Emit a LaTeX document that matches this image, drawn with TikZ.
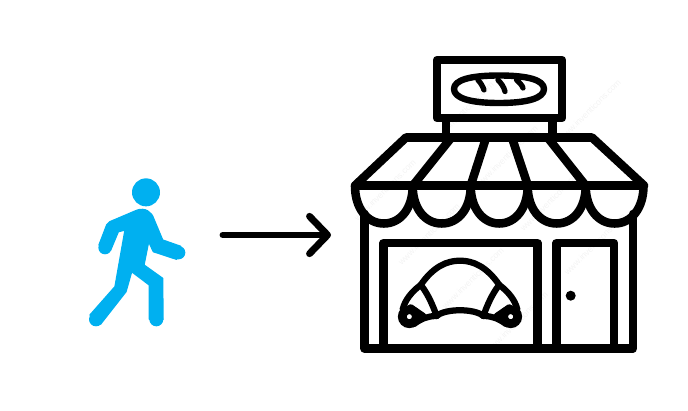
\documentclass[tikz,border=0pt]{standalone}
\usepackage{fontspec}
\setmainfont{Liberation Sans}
\usetikzlibrary{arrows.meta}
\definecolor{walker}{HTML}{00B0F0}
\definecolor{mark}{HTML}{F3F3F3}
\tikzset{
  px/.style={x=0.75pt,y=-0.75pt},
  ink/.style={draw=black,line width=6.4pt,line join=round,line cap=round},
  thin ink/.style={draw=black,line width=4.7pt,line join=round,line cap=round},
  ring ink/.style={draw=black,line width=6.6pt},
  bread ink/.style={draw=black,line width=4.8pt,line join=round,line cap=round},
  tick ink/.style={draw=black,line width=4pt,line cap=round},
  man/.style={fill=walker,draw=walker,line width=1pt,line join=round},
  stamp/.style={text=mark,font=\fontsize{6.5pt}{7pt}\selectfont,rotate=45,inner sep=0pt},
  walkarrow/.style={draw=black,line width=5.2pt,line cap=round,line join=round,
    -{Straight Barb[length=13.5pt,width=28pt,line width=5.2pt,round,line join=round]}}
}
\begin{document}
\begin{tikzpicture}[px]
\useasboundingbox (0,0) rectangle (688,410);
% faint watermark
\foreach \n/\x/\y in {a/385/190,b/463/112,c/429/234,d/507/156,e/473/278,f/551/200,g/517/322,h/595/244,k/590/110}{
  \node[stamp] (wm\n) at (\x,\y) {www.inventicons.com};
}
% walking man (coordinates in 3x zoom units)
\begin{scope}[shift={(70,170)},x=0.25pt,y=-0.25pt]
  \fill[walker] (228,67) circle (42);
  \path[man] (120,155) -- (200,121) .. controls (225,112) and (245,125) .. (252,148)
    -- (278,210) -- (332,229) -- (320,268) -- (250,245) -- (236,215) -- (222,285)
    -- (278,325) -- (279,448) -- (238,448) -- (238,345) -- (185,305) -- (168,365)
    -- (92,462) -- (60,435) -- (135,350) -- (165,180) -- (145,185) -- (122,240)
    -- (87,225) -- (110,165) -- cycle;
  \fill[walker] (105,233) circle (20) (326,248) circle (20)
    (259,448) circle (21) (78,448) circle (21);
\end{scope}
% arrow
\coordinate (from) at (223,235);
\coordinate (to) at (331,235);
\draw[walkarrow] (from) -- (to);
% sign
\begin{scope}
\clip (340,56) rectangle (660,130);
\draw[ink] (437,60) rectangle (562,118);
\end{scope}
\draw[ink,line cap=butt] (446,118) -- (446,138) (552.5,118) -- (552.5,138);
% bread
\draw[bread ink] (454,89) .. controls (454,80) and (470,75.5) .. (499,75.5)
  .. controls (528,75.5) and (544,80) .. (544,89)
  .. controls (544,98) and (528,103) .. (499,103)
  .. controls (470,103) and (454,98) .. (454,89) -- cycle;
\draw[tick ink] (478,80) .. controls (481,83) and (483,87) .. (484,90)
  (498,80) .. controls (501,83) and (504,87) .. (505,91.5)
  (516.5,80) .. controls (519,82) and (522,85) .. (523,88);
% awning
\draw[ink] (355,185.5) -- (406,137.5) -- (592,137.5) -- (644,185.5) -- cycle;
\draw[ink,line cap=butt] (412.5,186) -- (451,138) (470.5,186) -- (486,138)
  (528,186) -- (512,138) (586,186) -- (548,138);
% scallops
\foreach \a/\b in {355/412.7,412.7/470.7,470.7/527.7,527.7/585.7,585.7/643.5}{
  \draw[ink] (\a,186) .. controls (\a,208) and ({\a+12},223.5) .. ({(\a+\b)/2},223.5)
    .. controls ({\b-12},223.5) and (\b,208) .. (\b,186);
}
% walls
\draw[ink] (364.5,214) -- (364.5,348.5) -- (633,348.5) -- (633,214);
% window and door
\draw[ink] (383.5,348.5) -- (383.5,243) -- (537.5,243) -- (537.5,348.5);
\draw[ink] (556.5,348.5) -- (556.5,243) -- (614,243) -- (614,348.5);
\fill[black] (570.7,295.7) circle (5);
% croissant (coordinates in 3x zoom units)
\begin{scope}[shift={(390,250)},x=0.25pt,y=-0.25pt]
  \draw[thin ink] (92,105) .. controls (130,50) and (170,32) .. (210,32)
    .. controls (250,32) and (290,50) .. (328,105);
  \draw[thin ink] (92,105) .. controls (65,125) and (45,150) .. (38,178);
  \draw[thin ink] (328,105) .. controls (355,125) and (375,150) .. (382,178);
  \draw[thin ink] (95,108) .. controls (115,135) and (128,165) .. (140,198);
  \draw[thin ink] (325,108) .. controls (305,135) and (292,165) .. (280,198);
  \draw[thin ink] (140,198) .. controls (165,175) and (255,175) .. (280,198);
  \draw[thin ink] (140,198) .. controls (115,198) and (95,205) .. (72,222);
  \draw[thin ink] (280,198) .. controls (305,198) and (325,205) .. (348,222);
  \draw[thin ink] (62,172) -- (100,198);
  \draw[thin ink] (358,172) -- (320,198);
  \draw[ring ink] (58,200) circle (21);
  \draw[ring ink] (362,200) circle (21);
\end{scope}
\end{tikzpicture}
\end{document}
